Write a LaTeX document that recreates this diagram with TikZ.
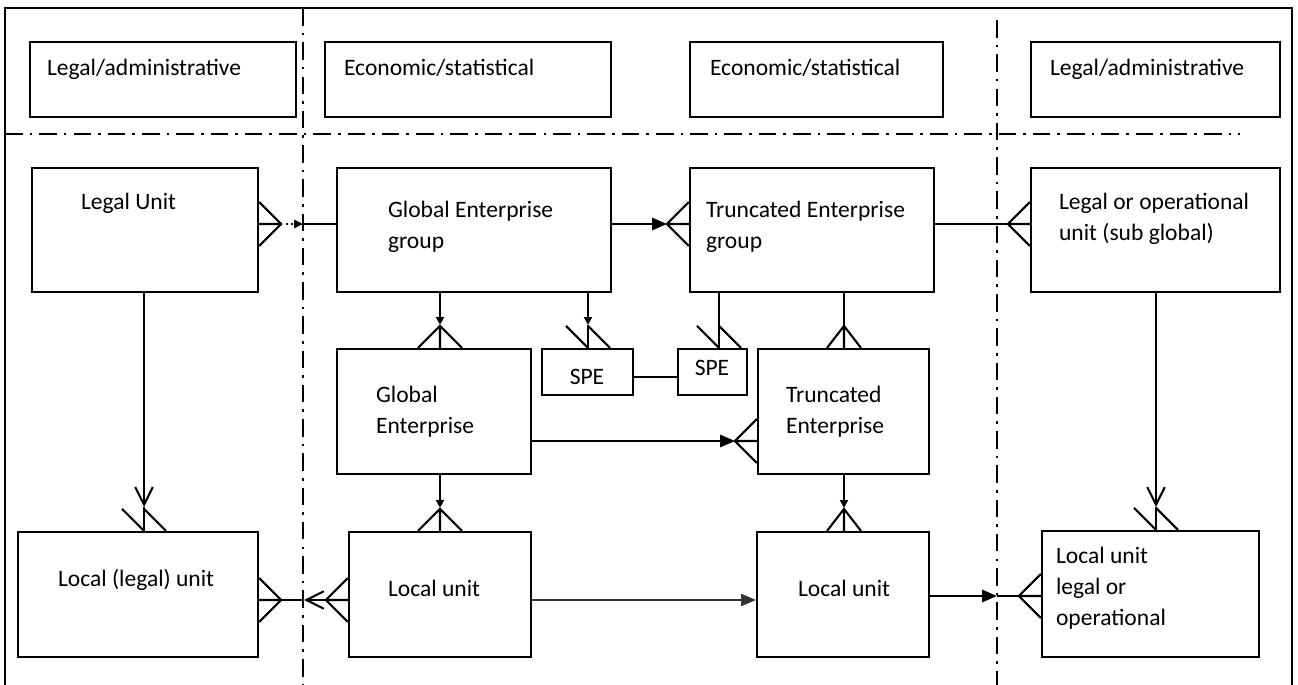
\documentclass[tikz,border=0pt]{standalone}
\usepackage{fontspec}
\setmainfont{Carlito}
\usetikzlibrary{arrows.meta}
\usetikzlibrary{fit}

\newcommand*{\unitbox}[5][]{%
  \node [ubox, fit={#3}] (#2) {};
  \node [utext, #1] (#2-txt) at (#4) {#5};
}
\newcommand*{\crowfoot}[3][22]{%
  \draw [shift={(#2)}, rotate=#3] (0,0) -- (22,0) (0,#1) -- (22,0) -- (0,-#1);
}
\newcommand*{\slashes}[1]{%
  \draw [shift={(#1)}] (-22,-22) -- (0,0) (0,-22) -- (22,0);
}

\begin{document}
\begin{tikzpicture}[x=0.02cm, y=-0.02cm, line width=1.2pt,
    ubox/.style = {draw, rectangle, inner sep=0pt},
    utext/.style = {anchor=north west, align=left, inner sep=0pt,
                    font=\fontsize{13.4}{17.6}\selectfont},
    border/.style = {line width=1.2pt, dash pattern=on 10pt off 4pt on 1.5pt off 4pt},
    tip/.style = {-{Triangle[length=8.5pt, width=7pt]}},
    smalltip/.style = {-{Triangle[length=4.5pt, width=4.5pt]}},
    opentip/.style = {-{Straight Barb[length=10pt, width=10pt]}}]

  \useasboundingbox (0,0) rectangle (1298,685);
  % frame and borders
  \draw (5,685) -- (5,8) -- (1292,8) -- (1292,685);
  \draw [border] (303,8) -- (303,685);
  \draw [border] (997,20) -- (997,685);
  \draw [border] (5,134) -- (1240,134);

  % headings
  \unitbox{head1}{(30,42) (296,117)}{46,58}{Legal/administrative}
  \unitbox{head2}{(325,42) (611,117)}{343,58}{Economic/statistical}
  \unitbox{head3}{(690,42) (943,117)}{709,58}{Economic/statistical}
  \unitbox{head4}{(1031,42) (1280,117)}{1049,58}{Legal/administrative}

  % units
  \unitbox{legal}{(32,168) (258,292)}{80,192}{Legal Unit}
  \unitbox{geg}{(337,168) (611,292)}{387,200}{Global Enterprise\\group}
  \unitbox{teg}{(690,168) (934,292)}{705,200}{Truncated Enterprise\\group}
  \unitbox{lou}{(1031,168) (1280,292)}{1058,192}{Legal or operational\\unit (sub global)}
  \unitbox[anchor=center]{spe1}{(542,349) (633,395)}{587,377}{SPE}
  \unitbox[anchor=center]{spe2}{(678,349) (747,395)}{712,368}{SPE}
  \unitbox{ge}{(337,349) (531,474)}{375,385}{Global\\Enterprise}
  \unitbox{te}{(758,349) (929,474)}{785,385}{Truncated\\Enterprise}
  \unitbox{lle}{(18,532) (258,657)}{57,568}{Local (legal) unit}
  \unitbox{lu1}{(349,532) (531,657)}{387,579}{Local unit}
  \unitbox{lu2}{(757,532) (929,657)}{797,579}{Local unit}
  \unitbox{lul}{(1042,531) (1259,657)}{1055,546}{Local unit\\legal or\\operational}

  \coordinate (d1) at (303,224);
  \coordinate (d2) at (304,600);
  \coordinate (d3) at (997,596);
  \coordinate (v1) at (280,224);
  \coordinate (v12) at (327,600);
  \coordinate (a2) at (667,224);
  \coordinate (a4) at (440,325);
  \coordinate (a5) at (588,325);
  \coordinate (s6) at (719,327);
  \coordinate (c7) at (844,327);
  \coordinate (a9) at (735,441);
  \coordinate (a10) at (440,508);
  \coordinate (a11) at (844,508);
  \coordinate (t13) at (144,507);
  \coordinate (t14) at (1156,507);

  % top row
  \crowfoot{legal.east |- d1}{0}
  \draw [dotted, -{Triangle[length=5pt, width=4.5pt]}] (v1) -- (d1);
  \draw (d1) -- (geg.west |- d1);
  \draw [tip] (geg.east |- d1) -- (a2);
  \crowfoot{teg.west |- d1}{180}
  \draw (teg.east |- d1) -- (lou.west |- d1);
  \crowfoot{lou.west |- d1}{180}

  % down from the groups
  \draw [smalltip] (geg.south -| a4) -- (a4);
  \crowfoot{ge.north -| a4}{90}
  \draw [smalltip] (geg.south -| a5) -- (a5);
  \draw (a5) -- (spe1.north -| a5);
  \slashes{spe1.north -| a5}
  \draw (teg.south -| s6) -- (spe2.north -| s6);
  \slashes{spe2.north -| s6}
  \draw (teg.south -| c7) -- (c7);
  \crowfoot[17]{te.north -| c7}{90}
  \draw (spe1.east |- spe1-txt) -- (spe2.west |- spe1-txt);

  % enterprises
  \draw [tip] (ge.east |- a9) -- (a9);
  \crowfoot{te.west |- a9}{180}
  \draw [smalltip] (ge.south -| a10) -- (a10);
  \crowfoot{lu1.north -| a10}{90}
  \draw [smalltip] (te.south -| a11) -- (a11);
  \crowfoot[17]{lu2.north -| a11}{90}

  % legal side
  \draw [opentip] (legal.south -| t13) -- (t13);
  \draw (t13) -- (lle.north -| t13);
  \slashes{lle.north -| t13}
  \draw [opentip] (lou.south -| t14) -- (t14);
  \draw (t14) -- (lul.north -| t14);
  \slashes{lul.north -| t14}

  % local units
  \crowfoot{lu1.west |- d2}{180}
  \draw [opentip] (v12) -- (d2);
  \draw (d2) -- (lle.east |- d2);
  \crowfoot{lle.east |- d2}{0}
  \draw [tip, line width=0.8pt, black!80] (lu1.east |- d2) -- (lu2.west |- d2);
  \draw [tip] (lu2.east |- d3) -- (d3);
  \draw (d3) -- (lul.west |- d3);
  \crowfoot{lul.west |- d3}{180}
\end{tikzpicture}
\end{document}
